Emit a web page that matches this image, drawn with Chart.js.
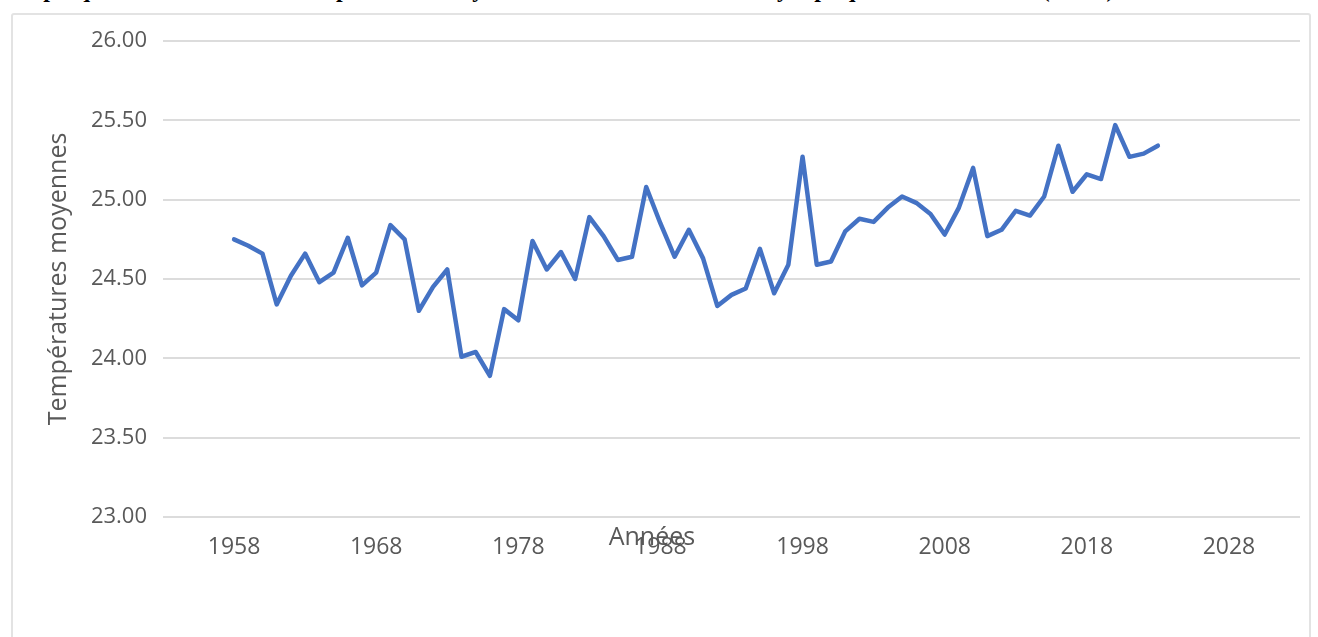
<!DOCTYPE html>
<html>
<head>
<meta charset="utf-8">
<script src="https://cdn.jsdelivr.net/npm/chart.js@4"></script>
<style>
  html, body { margin: 0; padding: 0; background: #fff; overflow: hidden; }
  #page { position: relative; width: 1318px; height: 637px; }
  #title {
    position: absolute; left: 2px; top: -24px; white-space: nowrap;
    font: bold 24px "Liberation Serif", serif; color: #000;
  }
  #frame {
    position: absolute; left: 11px; top: 13px; width: 1300px; height: 650px;
    border: 2px solid #e3e3e3; border-radius: 3px; box-sizing: border-box;
  }
  #wrap { position: absolute; left: 0; top: 0; width: 1318px; height: 637px; }
</style>
</head>
<body>
<div id="page">
  <div id="title">Graphique 3 : Évolution des températures moyennes annuelles à la station synoptique de 1958 à 2023 (en °C)</div>
  <div id="frame"></div>
  <div id="wrap"><canvas id="canvas"></canvas></div>
</div>
<script>
// years and annual mean temperatures
var years = [1958,1959,1960,1961,1962,1963,1964,1965,1966,1967,1968,1969,1970,1971,1972,1973,1974,1975,1976,1977,1978,1979,1980,1981,1982,1983,1984,1985,1986,1987,1988,1989,1990,1991,1992,1993,1994,1995,1996,1997,1998,1999,2000,2001,2002,2003,2004,2005,2006,2007,2008,2009,2010,2011,2012,2013,2014,2015,2016,2017,2018,2019,2020,2021,2022,2023];
var temperatures = [24.75,24.71,24.66,24.34,24.52,24.66,24.48,24.54,24.76,24.46,24.54,24.84,24.75,24.30,24.45,24.56,24.01,24.04,23.89,24.31,24.24,24.74,24.56,24.67,24.50,24.89,24.77,24.62,24.64,25.08,24.85,24.64,24.81,24.63,24.33,24.40,24.44,24.69,24.41,24.59,25.27,24.59,24.61,24.80,24.88,24.86,24.95,25.02,24.98,24.91,24.78,24.95,25.20,24.77,24.81,24.93,24.90,25.02,25.34,25.05,25.16,25.13,25.47,25.27,25.29,25.34];
var xTickYears = [1958,1968,1978,1988,1998,2008,2018,2028];
var yLabel = 'Températures moyennes';
var xLabel = 'Années';

var points = [];
for(var i = 0;i<years.length;i++){
  points.push({x: years[i], y: temperatures[i]});
}

var grey = '#595959';

// Excel left the x title off-centre, over the 1988 label
var xTitle = {
  id: 'xTitle',
  afterDraw: function(chart){
    var ctx = chart.ctx;
    var x = chart.scales.x.getPixelForValue(1987.4);
    ctx.save();
    ctx.fillStyle = grey;
    ctx.font = '25px "Open Sans"';
    ctx.textAlign = 'center';
    ctx.textBaseline = 'middle';
    ctx.fillText(xLabel, x, chart.chartArea.bottom + 21);
    ctx.restore();
  }
};

var ctx = document.getElementById('canvas').getContext('2d');
var chart = new Chart(ctx, {
  type: 'line',
  data: {
    datasets: [{
      data: points,
      borderColor: '#4472C4',
      borderWidth: 4.5,
      pointRadius: 0,
      tension: 0,
      borderJoinStyle: 'round',
      borderCapStyle: 'round'
    }]
  },
  options: {
    responsive: true,
    maintainAspectRatio: false,
    animation: false,
    layout: { padding: { left: 0, right: 18, top: 41, bottom: 0 } },
    plugins: { legend: { display: false }, tooltip: { enabled: false } },
    scales: {
      x: {
        type: 'linear',
        min: 1953,
        max: 2033,
        afterBuildTicks: function(scale){
          scale.ticks = xTickYears.map(function(v){ return {value: v}; });
        },
        afterFit: function(scale){ scale.height = 120; },
        grid: { display: false, drawTicks: false },
        border: { display: false },
        ticks: {
          color: grey,
          font: { family: 'Open Sans', size: 23 },
          padding: 17,
          maxRotation: 0,
          callback: function(v){ return String(v); }
        }
      },
      y: {
        min: 23,
        max: 26,
        afterFit: function(scale){ scale.width = 163; },
        grid: { color: '#dcdcdc', lineWidth: 2, drawTicks: false },
        border: { display: false },
        ticks: {
          stepSize: 0.5,
          color: grey,
          font: { family: 'Open Sans', size: 22 },
          padding: 16,
          callback: function(v){ return v.toFixed(2); }
        },
        title: {
          display: true,
          text: yLabel,
          color: grey,
          font: { family: 'Open Sans', size: 25 },
          padding: { top: 44, bottom: 0 }
        }
      }
    }
  },
  plugins: [xTitle]
});
</script>
</body>
</html>
